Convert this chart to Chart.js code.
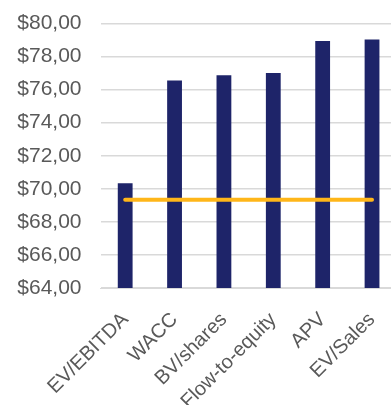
<!DOCTYPE html>
<html>
<head>
<meta charset="utf-8">
<script src="https://cdn.jsdelivr.net/npm/chart.js@4"></script>
<style>
  html, body { margin: 0; padding: 0; background: #fff; overflow: hidden; }
  #wrap { width: 401px; height: 405px; }
</style>
</head>
<body>
<div id="wrap"><canvas id="chart"></canvas></div>
<script>
// valuation by method vs. current price
const methods = ["EV/EBITDA", "WACC", "BV/shares", "Flow-to-equity", "APV", "EV/Sales"];
const values = [70.33, 76.55, 76.87, 77.0, 78.94, 79.03];
const price = [69.34, 69.34, 69.34, 69.34, 69.34, 69.34];

const C = { bar: "#1E2469", line: "#FFB619", grid: "#D9D9D9", text: "#595959" };
const fmt = (v) => "$" + v.toFixed(2).replace(".", ",");

Chart.defaults.font.family = "'Liberation Sans', Arial, sans-serif";
Chart.defaults.color = C.text;

new Chart(document.getElementById("chart"), {
  data: {
    labels: methods,
    datasets: [
      { type: "line", data: price, borderColor: C.line, borderWidth: 4, borderCapStyle: "round",
        pointRadius: 0, order: 0 },
      { type: "bar", data: values, backgroundColor: C.bar, barPercentage: 0.6, categoryPercentage: 0.5, order: 1 },
    ],
  },
  options: {
    responsive: true, maintainAspectRatio: false, animation: false,
    layout: { padding: { top: 23.5, left: 0, right: 0, bottom: 0 } },
    plugins: { legend: { display: false }, tooltip: { enabled: false } },
    scales: {
      x: { grid: { display: false }, border: { color: C.grid },
           ticks: { font: { size: 20 }, minRotation: 45, maxRotation: 45, padding: 12 },
           afterFit: (s) => { s.height = 117; } },
      y: { min: 64, max: 80, border: { display: false },
           grid: { color: C.grid, lineWidth: 1.5, drawTicks: true, tickLength: 17, tickColor: "rgba(0,0,0,0)" },
           ticks: { stepSize: 2, font: { size: 21 }, padding: 2, callback: (v) => fmt(v) },
           afterFit: (s) => { s.width = 100.5; } },
    },
  },
});
</script>
</body>
</html>
